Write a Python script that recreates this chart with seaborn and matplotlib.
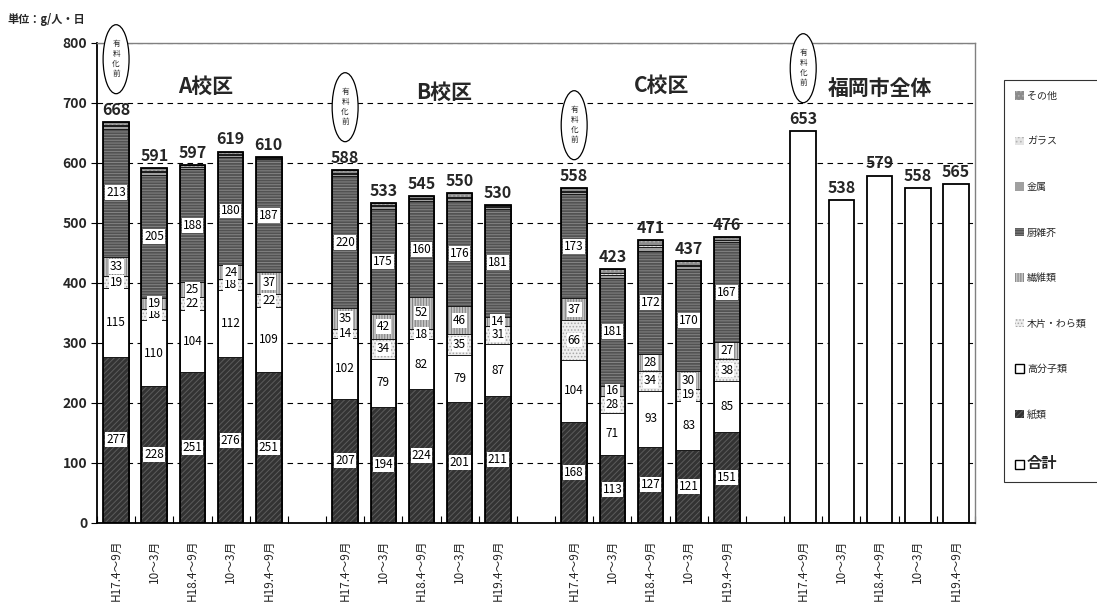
import numpy as np
import matplotlib
matplotlib.use("Agg")
import matplotlib.pyplot as plt
import seaborn as sns
from matplotlib.patches import Ellipse, Patch

sns.set_theme(style="white")
plt.rcParams["font.family"] = ["Noto Sans CJK JP", "DejaVu Sans"]
plt.rcParams["hatch.linewidth"] = 0.7

# ---- data (g / person / day) ----
periods = ["H17.4～9月", "10～3月", "H18.4～9月", "10～3月", "H19.4～9月"]
groups = ["A校区", "B校区", "C校区", "福岡市全体"]
# A校区 (5) + B校区 (5) + C校区 (5)
paper   = [277, 228, 251, 276, 251, 207, 194, 224, 201, 211, 168, 113, 127, 121, 151]
polymer = [115, 110, 104, 112, 109, 102, 79, 82, 79, 87, 104, 71, 93, 83, 85]
wood    = [19, 18, 22, 18, 22, 14, 34, 18, 35, 31, 66, 28, 34, 19, 38]
textile = [33, 19, 25, 24, 37, 35, 42, 52, 46, 14, 37, 16, 28, 30, 27]
kitchen = [213, 205, 188, 180, 187, 220, 175, 160, 176, 181, 173, 181, 172, 170, 167]
metal   = [5, 5, 3, 4, 2, 4, 4, 4, 5, 3, 4, 5, 6, 5, 3]
glass   = [2, 2, 1, 1, 1, 2, 2, 1, 2, 1, 2, 2, 4, 2, 1]
other   = [4, 4, 3, 4, 1, 4, 3, 4, 6, 2, 4, 7, 7, 7, 4]
city_total = [653, 538, 579, 558, 565]

# ---- layout ----
n_per = len(periods)
slot = n_per + 1
dist_pos = np.array([g * slot + i for g in range(3) for i in range(n_per)], dtype=float)
city_pos = np.array([3 * slot + i for i in range(n_per)], dtype=float)
all_pos = np.concatenate([dist_pos, city_pos])
BAR_W = 0.67

# name, values, face, hatch, hatch colour, labelled
layers = [
    ("紙類", paper, "#333333", "//////", "#5c5c5c", True),
    ("高分子類", polymer, "#ffffff", None, "#ffffff", True),
    ("木片・わら類", wood, "#eeeeee", ".....", "#a8a8a8", True),
    ("繊維類", textile, "#c4c4c4", "||||||", "#808080", True),
    ("厨雑芥", kitchen, "#525252", "------", "#858585", True),
    ("金属", metal, "#a0a0a0", None, "#a0a0a0", False),
    ("ガラス", glass, "#e4e4e4", "....", "#b4b4b4", False),
    ("その他", other, "#8c8c8c", "....", "#b0b0b0", False),
]

fig = plt.figure(figsize=(10.97, 6.08), dpi=100)
ax = fig.add_axes([97 / 1097, 1 - 523 / 608, (975 - 97) / 1097, (523 - 43) / 608])

bottom = np.zeros(len(dist_pos))
label_items = []
for name, vals, face, hatch, hcol, labelled in layers:
    vals = np.asarray(vals, dtype=float)
    kw = dict(edgecolor=hcol, linewidth=0)
    if hatch:
        kw["hatch"] = hatch
    sns.barplot(x=dist_pos, y=vals, bottom=bottom.copy(), native_scale=True,
                width=BAR_W, color=face, saturation=1, errorbar=None, ax=ax, **kw)
    sns.barplot(x=dist_pos, y=vals, bottom=bottom.copy(), native_scale=True,
                width=BAR_W, fill=False, color="#1a1a1a", linewidth=0.6,
                errorbar=None, ax=ax)
    if labelled:
        for p, b, v in zip(dist_pos, bottom, vals):
            label_items.append((p, b + v / 2, int(v)))
    bottom = bottom + vals

dist_total = bottom
# outer outline of each stacked bar
sns.barplot(x=dist_pos, y=dist_total, native_scale=True, width=BAR_W, fill=False,
            color="black", linewidth=1.3, errorbar=None, ax=ax)
# city-wide totals
sns.barplot(x=city_pos, y=city_total, native_scale=True, width=BAR_W, color="white",
            saturation=1, edgecolor="black", linewidth=1.3, errorbar=None, ax=ax)

for p, y, v in label_items:
    ax.text(p, y, str(v), ha="center", va="center", fontsize=8.5, color="black",
            bbox=dict(boxstyle="square,pad=0.08", facecolor="white", edgecolor="none"),
            zorder=5)

totals = np.concatenate([dist_total, city_total])
for p, t in zip(all_pos, totals):
    ax.annotate(f"{int(t)}", (p, t), xytext=(0, 3), textcoords="offset points",
                ha="center", va="bottom", fontsize=11.5, fontweight="bold", zorder=5)

# "有料化前" ovals above the first bar of each group
for g in range(4):
    p = all_pos[g * n_per]
    t = totals[g * n_per]
    yc = t + 48 + 57
    ax.add_patch(Ellipse((p, yc), 0.68, 115, facecolor="white", edgecolor="black",
                         linewidth=0.9, clip_on=False, zorder=6))
    ax.text(p, yc, "有\n料\n化\n前", ha="center", va="center", fontsize=5.5,
            linespacing=1.35, clip_on=False, zorder=7)

# group titles
title_xy = [(2.35, 727), (8.6, 718), (14.3, 730), (20.0, 725)]
for name, (tx, ty) in zip(groups, title_xy):
    ax.text(tx, ty, name, ha="center", va="center", fontsize=15, fontweight="bold")

# axes styling
ax.set_xlim(-0.42, 22.45)
ax.set_ylim(0, 800)
ax.set_yticks(range(0, 801, 100))
ax.set_yticklabels([str(v) for v in range(0, 801, 100)], fontsize=10, fontweight="bold")
ax.set_xticks(all_pos)
ax.set_xticklabels(periods * 4, rotation=90, fontsize=8.5)
ax.set_xticks(np.arange(-0.5, 23, 1), minor=True)
ax.tick_params(axis="x", which="major", length=0, pad=12, bottom=True)
ax.tick_params(axis="x", which="minor", length=5, width=0.8, direction="in",
               color="black", bottom=True)
ax.tick_params(axis="y", which="major", length=4, width=0.8, direction="out",
               color="black", left=True, pad=3)
ax.set_xlabel("")
ax.set_ylabel("")
ax.yaxis.grid(True, linestyle=(0, (5, 4)), color="black", linewidth=0.8)
ax.xaxis.grid(False)
ax.set_axisbelow(True)
for side in ("left", "bottom"):
    ax.spines[side].set_color("black")
    ax.spines[side].set_linewidth(1.3)
for side in ("top", "right"):
    ax.spines[side].set_color("#808080")
    ax.spines[side].set_linewidth(1.0)

fig.text(7 / 1097, 1 - 20 / 608, "単位：g/人・日", fontsize=8, fontweight="bold",
         ha="left", va="center")

# legend
handles = []
names = []
for name, vals, face, hatch, hcol, labelled in reversed(layers):
    if face == "#ffffff":
        handles.append(Patch(facecolor="white", edgecolor="black", linewidth=1.0))
    else:
        handles.append(Patch(facecolor=face, edgecolor=hcol, hatch=hatch, linewidth=0))
    names.append(name)
handles.append(Patch(facecolor="white", edgecolor="black", linewidth=1.0))
names.append("合計")
leg = fig.legend(handles, names, loc="upper left", bbox_to_anchor=(1004 / 1097, 1 - 80 / 608),
                 frameon=True, fancybox=False, edgecolor="black", fontsize=7.2,
                 labelspacing=3.55, handlelength=0.9, handleheight=0.9,
                 handletextpad=0.3, borderpad=1.1, borderaxespad=0)
leg.get_frame().set_linewidth(0.8)
leg.get_texts()[-1].set_fontsize(11)
leg.get_texts()[-1].set_fontweight("bold")

fig.savefig("out.png", dpi=100)
